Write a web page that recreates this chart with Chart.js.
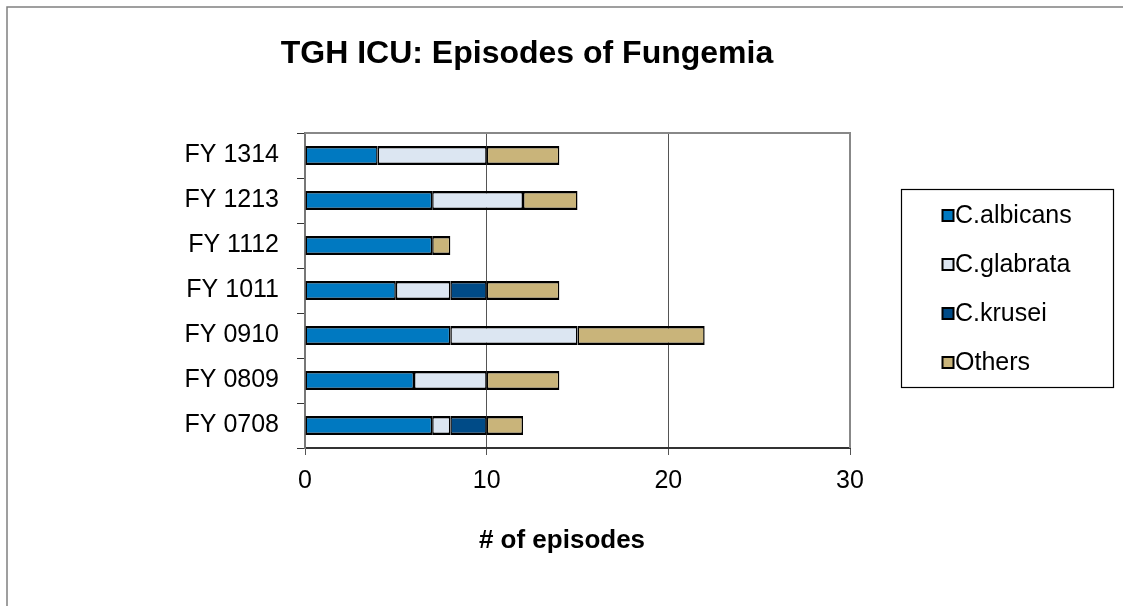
<!DOCTYPE html>
<html>
<head>
<meta charset="utf-8">
<script src="https://cdn.jsdelivr.net/npm/chart.js@4/dist/chart.umd.min.js"></script>
<style>
  html, body { margin: 0; padding: 0; background: #ffffff; }
  #wrap { width: 1123px; height: 606px; position: relative; }
  canvas { display: block; }
</style>
</head>
<body>
<div id="wrap"><canvas id="c" width="1123" height="606"></canvas></div>
<script>
const chartTitle = 'TGH ICU: Episodes of Fungemia';
const axisTitle = '# of episodes';
const categories = ['FY 1314', 'FY 1213', 'FY 1112', 'FY 1011', 'FY 0910', 'FY 0809', 'FY 0708'];
const seriesNames = ['C.albicans', 'C.glabrata', 'C.krusei', 'Others'];
const albicans = [4, 7, 7, 5, 8, 6, 7];
const glabrata = [6, 5, 0, 3, 7, 4, 1];
const krusei   = [0, 0, 0, 2, 0, 0, 2];
const others   = [4, 3, 1, 4, 7, 4, 2];
const xTicks = [0, 10, 20, 30];

const colors = ['#0079C1', '#DCE6F2', '#004B87', '#C9B47A'];
const seriesValues = [albicans, glabrata, krusei, others];

const datasets = seriesNames.map((name, i) => ({
  label: name,
  data: seriesValues[i],
  backgroundColor: colors[i],
  borderColor: '#000000',
  borderWidth: { top: 2.5, bottom: 2.5, left: 1.5, right: 1.5 },
  borderSkipped: false,
  barPercentage: 0.42,
  categoryPercentage: 1.0
}));

const FONT = '"Liberation Sans", Arial, sans-serif';

const decor = {
  id: 'decor',
  beforeDraw(chart) {
    const ctx = chart.ctx;
    ctx.save();
    ctx.fillStyle = '#ffffff';
    ctx.fillRect(0, 0, chart.width, chart.height);
    // outer frame (top and left visible)
    ctx.strokeStyle = '#808080';
    ctx.lineWidth = 1.5;
    ctx.beginPath();
    ctx.moveTo(7, chart.height);
    ctx.lineTo(7, 7);
    ctx.lineTo(chart.width, 7);
    ctx.stroke();
    ctx.restore();
  },
  afterDraw(chart) {
    const ctx = chart.ctx;
    const a = chart.chartArea;
    ctx.save();
    // plot border top & right
    ctx.strokeStyle = '#888888';
    ctx.lineWidth = 2;
    ctx.beginPath();
    ctx.moveTo(a.left, a.top);
    ctx.lineTo(a.right, a.top);
    ctx.lineTo(a.right, a.bottom);
    ctx.stroke();

    // chart title
    ctx.fillStyle = '#000000';
    ctx.font = 'bold 32px ' + FONT;
    ctx.textAlign = 'center';
    ctx.textBaseline = 'middle';
    ctx.fillText(chartTitle, 527, 54);

    // x axis title
    ctx.font = 'bold 26px ' + FONT;
    ctx.fillText(axisTitle, 562, 541);

    // legend
    const lx = 901, ly = 189, lw = 212, lh = 198;
    ctx.fillStyle = '#ffffff';
    ctx.fillRect(lx, ly, lw, lh);
    ctx.strokeStyle = '#000000';
    ctx.lineWidth = 1.2;
    ctx.strokeRect(lx + 0.5, ly + 0.5, lw, lh);
    ctx.font = '25px ' + FONT;
    ctx.textAlign = 'left';
    ctx.textBaseline = 'middle';
    chart.data.datasets.forEach((ds, i) => {
      const cy = 215.5 + i * 49;
      ctx.fillStyle = ds.backgroundColor;
      ctx.fillRect(942.5, cy - 5.5, 11, 11);
      ctx.strokeStyle = '#000000';
      ctx.lineWidth = 2;
      ctx.strokeRect(942.5, cy - 5.5, 11, 11);
      ctx.fillStyle = '#000000';
      ctx.fillText(ds.label, 955, cy + 1);
    });
    ctx.restore();
  }
};

new Chart(document.getElementById('c'), {
  type: 'bar',
  data: { labels: categories, datasets: datasets },
  plugins: [decor],
  options: {
    indexAxis: 'y',
    responsive: false,
    animation: false,
    devicePixelRatio: 1,
    layout: { padding: { left: 0, top: 133, right: 273, bottom: 0 } },
    plugins: {
      legend: { display: false },
      title: { display: false },
      tooltip: { enabled: false }
    },
    scales: {
      x: {
        stacked: true,
        min: 0,
        max: 30,
        afterBuildTicks(scale) { scale.ticks = xTicks.map(v => ({ value: v })); },
        afterFit(scale) { scale.height = 158; },
        ticks: {
          color: '#000000',
          font: { family: FONT, size: 25 },
          padding: 11,
          maxRotation: 0
        },
        grid: {
          color: '#555555',
          lineWidth: 1,
          tickLength: 7,
          tickColor: '#555555'
        },
        border: { color: '#333333', width: 2 }
      },
      y: {
        stacked: true,
        afterFit(scale) { scale.width = 305; },
        ticks: {
          color: '#000000',
          font: { family: FONT, size: 25 },
          padding: 18
        },
        grid: {
          drawOnChartArea: false,
          offset: true,
          tickLength: 8,
          color: '#333333'
        },
        border: { color: '#777777', width: 2 }
      }
    }
  }
});
</script>
</body>
</html>
